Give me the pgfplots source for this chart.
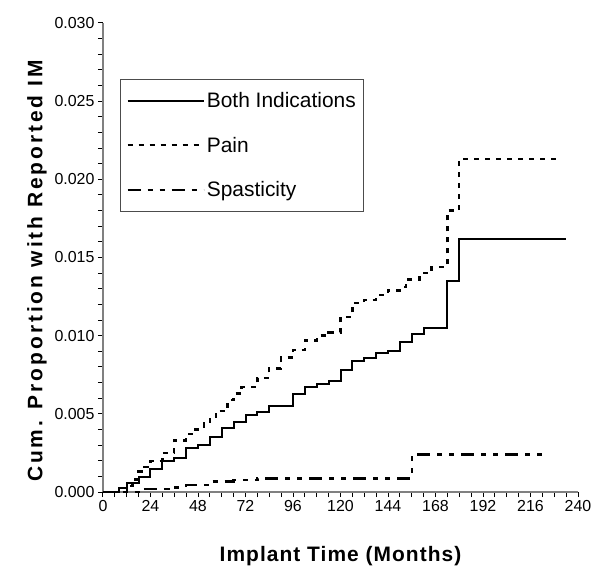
\documentclass[border=0pt]{standalone}
\usepackage{pgfplots}
\pgfplotsset{compat=1.18}
\usepackage{fontspec}
\setmainfont{Liberation Sans}

\begin{document}
\begin{tikzpicture}
\begin{axis}[
    name=ax,
    scale only axis,
    width=475bp, height=469bp,
    xmin=0, xmax=240, ymin=0, ymax=0.03,
    axis x line*=bottom, axis y line*=left,
    axis line style={draw=gray, line width=1.2bp, -},
    xtick={0,24,...,240},
    minor x tick num=3,
    ytick={0,0.005,0.010,0.015,0.020,0.025,0.030},
    minor y tick num=4,
    tick align=outside,
    major tick length=5bp, minor tick length=5bp,
    tick style={black, line width=1bp},
    scaled y ticks=false,
    yticklabel style={/pgf/number format/.cd, fixed, fixed zerofill, precision=3},
    /pgf/number format/assume math mode=true,
    tick label style={font=\fontsize{16}{18}\selectfont},
    xlabel={\addfontfeature{LetterSpace=5}Implant Time (Months)},
    ylabel={\addfontfeature{LetterSpace=14}Cum. Proportion with Reported IM},
    label style={font=\bfseries\fontsize{21}{24}\selectfont},
    xlabel style={at={(axis description cs:0.5,-0.136)}, anchor=center},
    ylabel style={at={(axis description cs:-0.139,0.471)}, anchor=center},
    legend style={at={(axis description cs:0.036,0.881)}, anchor=north west,
        draw=gray!60!black, line width=0.8bp,
        font=\fontsize{21}{24}\selectfont, row sep=24bp,
        inner xsep=6bp, inner ysep=11bp},
    legend cell align=left,
    legend image code/.code={\draw[#1] (0bp,0bp) -- (76bp,0bp);},
    clip=false,
]

% Both indications
\addplot[const plot, black, line width=2bp] coordinates {
    (0,0) (8,0.00023) (12,0.00056) (18,0.00098) (24,0.00145) (30,0.0020)
    (36,0.0022) (42,0.0028) (48,0.0030) (54,0.0035) (60,0.0041) (66,0.0045)
    (72,0.0049) (78,0.0051) (84,0.0055) (96,0.0063) (102,0.0067) (108,0.0069)
    (114,0.0071) (120,0.0078) (126,0.0084) (132,0.0086) (138,0.0089)
    (144,0.0090) (150,0.0096) (156,0.0101) (162,0.0105) (174,0.0135)
    (180,0.0162) (234,0.0162)
};
\addlegendentry{Both Indications}

% Pain
\addplot[const plot, black, line width=2.4bp, dash pattern=on 5bp off 6bp] coordinates {
    (0,0) (12,0.0004) (15,0.0008) (18,0.0013) (21,0.0016) (24,0.0020)
    (30,0.0025) (36,0.0033) (42,0.0037) (45,0.0040) (51,0.0044) (54,0.0048)
    (57,0.0052) (63,0.0059) (66,0.0063) (70,0.0067) (78,0.0073) (84,0.0079)
    (90,0.0086) (96,0.0091) (102,0.0097) (108,0.0100) (114,0.0102)
    (120,0.0112) (126,0.0121) (132,0.0123) (138,0.0126) (144,0.0129)
    (150,0.0131) (153,0.0136) (160,0.0140) (166,0.0144) (174,0.0180)
    (180,0.0213) (231,0.0213)
};
\addlegendentry{Pain}

% Spasticity
\addplot[const plot, black, line width=2.4bp,
    dash pattern=on 13bp off 7bp on 5bp off 7bp on 5bp off 7bp] coordinates {
    (0,0) (20,0.0002) (33,0.0003) (42,0.00045) (54,0.00066) (66,0.00077)
    (78,0.00087) (156,0.0024) (224,0.0024)
};
\addlegendentry{Spasticity}

\end{axis}
\pgfresetboundingbox
\path[use as bounding box] ([shift={(-103bp,-80bp)}]ax.south west)
    rectangle ([shift={(16bp,23bp)}]ax.north east);
\end{tikzpicture}
\end{document}
